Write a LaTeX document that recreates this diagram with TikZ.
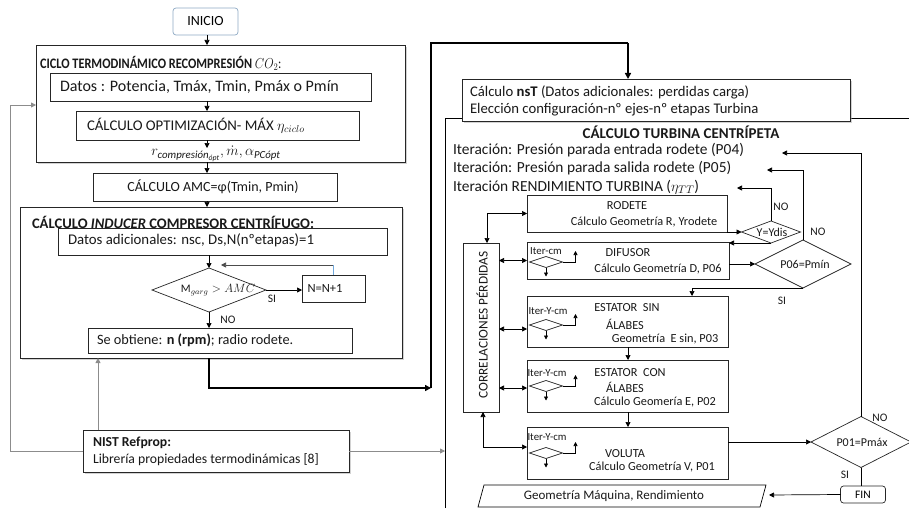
\documentclass[tikz,border=0pt]{standalone}
\usepackage{fontspec}
\setmainfont{Carlito}
\usepackage{amsmath}
\usetikzlibrary{arrows.meta,shapes.geometric,shadows,calc}
\newcommand\fsz[1]{\fontsize{#1}{#1}\selectfont}
\definecolor{inicol}{HTML}{8EA9C4}
\definecolor{garrc}{HTML}{8C8C8C}
\definecolor{loopc}{HTML}{6FA8DC}
\newcommand\miniiter[4]{%
  \node[dia, minimum width=33, minimum height=11] (#1d) at (#2) {};
  \node[txt, font=\fsz{10.8}] (#1l) at (#3) {#4};
  \draw[sarr] (#1d.south) -- ++(0,9);
  \draw[sarr] (#1d.east) -- ++(13,0) -- ++(0,-11);
}
\begin{document}
\begin{tikzpicture}[x=1pt,y=-1pt,
 box/.style={draw=black!85, line width=0.7pt, rectangle, inner sep=0pt, outer sep=0pt, fill=white},
 bigbox/.style={box, drop shadow={shadow xshift=2pt, shadow yshift=-2pt, fill=black!35}},
 dia/.style={draw=black!85, line width=0.7pt, diamond, inner sep=0pt, outer sep=0pt, fill=white},
 txt/.style={inner sep=0pt, outer sep=0pt, font=\fsz{12.5}, text=black!90},
 arr/.style={draw=black, line width=0.7pt, -{Triangle[length=5pt,width=5pt]}},
 sarr/.style={draw=black, line width=0.7pt, -{Triangle[length=4pt,width=4pt]}},
 darr/.style={draw=black, line width=0.7pt, {Triangle[length=5pt,width=5pt]}-{Triangle[length=5pt,width=5pt]}},
 garr/.style={draw=garrc, line width=0.8pt, -{Triangle[length=5pt,width=5pt]}},
 thk/.style={draw=black, line width=1.8pt, -{Triangle[length=6pt,width=6pt]}},
 thkl/.style={draw=black, line width=1.8pt},
 plain/.style={draw=black, line width=0.7pt},
 small/.style={txt, font=\fsz{11.5}},
 btxt/.style={txt, font=\fsz{12.3}},
]
\useasboundingbox (0,0) rectangle (909,508);
% helper coordinates
\coordinate (cA) at (207,0);
\coordinate (cB) at (209,0);
\coordinate (cN) at (98,0);
\coordinate (cT) at (628,0);
\coordinate (cS) at (692,0);
\coordinate (cC) at (487,0);
\coordinate (cD) at (483,0);
\coordinate (cE) at (628,0);
\coordinate (rE1) at (0,329);
\coordinate (rE2) at (0,388);
\coordinate (rV) at (0,447);
\coordinate (frameTL) at (445,118);
\coordinate (frameBL) at (445,508);
\coordinate (frameTR) at (909,118);

% ---------------- left part
\node[box, draw=inicol, rounded corners=3pt, minimum width=65, minimum height=27, font=\fsz{14}] (inicio) at (205.5,21.5) {INICIO};
\node[bigbox, minimum width=369, minimum height=117] (cyc) at (220.5,103.5) {};
\node[txt, anchor=west, font=\fsz{14.5}\bfseries] (cyct) at (40,63) {\scalebox{0.85}[1]{CICLO TERMODINÁMICO RECOMPRESIÓN \mdseries$CO_2$:}};
\node[box, minimum width=321, minimum height=28] (datos) at (210.5,87) {};
\node[txt, anchor=west, font=\fsz{16}] (datost) at (60,87) {Datos : Potencia, Tmáx, Tmin, Pmáx o Pmín};
\node[box, minimum width=283, minimum height=29] (opt) at (217.5,125.5) {};
\node[txt, anchor=west, font=\fsz{14.8}] (optt) at (87,125.5) {CÁLCULO OPTIMIZACIÓN- MÁX $\eta_{ciclo}$};
\coordinate (rlabTop) at (207,148);
\node[txt, font=\fsz{15.5}] (rlab) at (216,154) {$r_{\text{\itshape compresión}_{\text{\itshape ópt}}}, \dot m, \alpha_{\text{\itshape PCópt}}$};
\node[box, minimum width=244, minimum height=28] (amc) at (215,187) {};
\node[txt, font=\fsz{14}] (amct) at (213,187) {CÁLCULO AMC=φ(Tmin, Pmin)};
\node[bigbox, minimum width=382, minimum height=151] (ind) at (211,282.5) {};
\node[txt, anchor=west, font=\fsz{14.6}\bfseries] (indt) at (32,222) {CÁLCULO \textit{INDUCER} COMPRESOR CENTRÍFUGO:};
\node[box, minimum width=329, minimum height=27] (dad) at (222.5,241.5) {};
\node[txt, anchor=west, font=\fsz{14.8}] (dadt) at (68,240) {Datos adicionales: nsc, Ds,N(nºetapas)=1};
\node[dia, minimum width=114, minimum height=44] (d1) at (209,290) {};
\node[txt, font=\fsz{11.5}] (d1t) at (218,290) {M$_{garg}>AMC$};
\node[box, minimum width=63, minimum height=27] (nn1) at (333.5,288.5) {};
\node[txt, font=\fsz{12.5}] (nn1t) at (325,288.5) {N=N+1};
\node[small] (sia) at (272,299) {SI};
\node[small] (noa) at (228,320) {NO};
\node[box, minimum width=264, minimum height=25] (res) at (220,340.5) {};
\node[txt, anchor=west, font=\fsz{14.3}] (rest) at (97,340.5) {Se obtiene: \textbf{n (rpm)}; radio rodete.};
\node[bigbox, minimum width=266, minimum height=42] (nist) at (216,451) {};
\node[txt, anchor=west, font=\fsz{13.7}\bfseries] (nist1) at (93,443) {NIST Refprop:};
\node[txt, anchor=west, font=\fsz{13.7}] (nist2) at (93,460) {Librería propiedades termodinámicas [8]};

% left connectors
\draw[arr] (inicio.south -| cA) -- (cyc.north -| cA);
\draw[arr] (datos.south -| cA) -- (opt.north -| cA);
\draw[arr] (opt.south -| cA) -- (rlabTop);
\draw[arr] (cyc.south -| cA) -- (amc.north -| cA);
\draw[arr] (amc.south -| cA) -- (ind.north -| cA);
\draw[arr] (dad.south -| cB) -- (d1.north);
\draw[arr] (d1.east) -- (nn1.west |- d1.east);
\coordinate (lp1) at (333,265);
\coordinate (lp2) at (221,265);
\draw[draw=loopc, line width=0.7pt] (nn1.north -| lp1) -- (lp1);
\draw[arr, draw=black!70] (lp1) -- (lp2);
\draw[arr] (d1.south) -- (res.north -| d1.south);
\draw[garr] (nist.north -| cN) -- (ind.south -| cN);
\coordinate (gA) at (10,105);
\draw[garr] (nist.west) -| (gA) -- (gA -| cyc.west);
\draw[garr] (nist.east) -- (nist.east -| frameTL);

% ---------------- right part
\draw[plain] (frameBL) -- (frameTL) -- (frameTR);
\coordinate (jA) at (431,388);
\coordinate (jB) at (431,43);
\node[bigbox, minimum width=388, minimum height=42] (nst) at (656,100) {};
\node[txt, anchor=west, font=\fsz{14.7}] (nst1) at (470,92) {Cálculo \textbf{nsT} (Datos adicionales: perdidas carga)};
\node[txt, anchor=west, font=\fsz{14.7}] (nst2) at (470,110) {Elección configuración-nº ejes-nº etapas Turbina};
\draw[thkl] (jA) -- (jB) -- (jB -| cT);
\draw[thk] (jB -| cT) -- (nst.north -| cT);
\draw[thk] (ind.south -| cB) |- (jA);

\node[txt, font=\fsz{15}\bfseries] (turt) at (681,132) {CÁLCULO TURBINA CENTRÍPETA};
\node[txt, anchor=west, font=\fsz{15.4}] (it1) at (453,150) {Iteración: Presión parada entrada rodete (P04)};
\node[txt, anchor=west, font=\fsz{15.4}] (it2) at (453,168) {Iteración: Presión parada salida rodete (P05)};
\node[txt, anchor=west, font=\fsz{15.4}] (it3) at (453,187) {Iteración RENDIMIENTO TURBINA ($\eta_{TT}$)};

\node[box, minimum width=200, minimum height=37] (rod) at (627,213.5) {};
\node[btxt] (rod1) at (627,206) {RODETE};
\node[btxt] (rod2) at (644,222) {Cálculo Geometría R, Yrodete};
\node[box, minimum width=202, minimum height=37] (dif) at (628,260.5) {};
\node[btxt] (dif1) at (628,253) {DIFUSOR};
\node[btxt] (dif2) at (658,269) {Cálculo Geometría D, P06};
\node[box, minimum width=201, minimum height=51] (esin) at (627.5,321.5) {};
\node[btxt] (esin1) at (627,308) {ESTATOR\ \ SIN};
\node[btxt] (esin2) at (625,324) {ÁLABES};
\node[btxt] (esin3) at (665,339) {Geometría\ \ E sin, P03};
\node[box, minimum width=201, minimum height=52] (econ) at (627.5,386) {};
\node[btxt] (econ1) at (630,373) {ESTATOR\ \ CON};
\node[btxt] (econ2) at (625,387) {ÁLABES};
\node[btxt] (econ3) at (655,402) {Cálculo Geomería E, P02};
\node[box, minimum width=201, minimum height=52] (vol) at (627.5,453) {};
\node[btxt] (vol1) at (625,454) {VOLUTA};
\node[btxt] (vol2) at (652,467) {Cálculo Geometría V, P01};
\node[box, minimum width=36, minimum height=169] (corr) at (481,327.5) {};
\node[txt, rotate=90, font=\fsz{13.3}] (corrt) at (482,325) {CORRELACIONES PÉRDIDAS};

\miniiter{mdif}{546,262}{546,251}{Iter-cm}
\miniiter{mesin}{546,325}{548,311}{Iter-Y-cm}
\miniiter{mecon}{546,386}{547,373}{Iter-Y-cm}
\miniiter{mvol}{546,453}{547,437}{Iter-Y-cm}

\node[dia, minimum width=59, minimum height=22] (ydis) at (771,232) {};
\node[txt, font=\fsz{12}] (ydist) at (772,232) {Y=Ydis};
\node[dia, minimum width=96, minimum height=48] (p06) at (803,264) {};
\node[txt, font=\fsz{12}] (p06t) at (805,264) {P06=Pmín};
\node[dia, minimum width=100, minimum height=51] (p01) at (861,442) {};
\node[txt, font=\fsz{12}] (p01t) at (862,442) {P01=Pmáx};
\node[box, rounded corners=3pt, minimum width=45, minimum height=17, font=\fsz{11.5}] (fin) at (863,494.5) {FIN};
\draw[plain] (478,507) -- (484,485) -- (766,485) -- (760,507) -- cycle;
\node[txt, font=\fsz{13}] (geot) at (614,496) {Geometría Máquina, Rendimiento};
\coordinate (geoR) at (769,495);

\node[small] (no1) at (781,207) {NO};
\node[small] (no2) at (818,232) {NO};
\node[small] (no3) at (880,418) {NO};
\node[small] (si1) at (782,301) {SI};
\node[small] (si2) at (845,475) {SI};

% right connectors
\coordinate (t04) at (782,153);
\coordinate (t05) at (767,170);
\coordinate (tTT) at (737,188);
\draw[arr] (p01.north) |- (t04);
\draw[arr] (p06.north) |- (t05);
\draw[arr] (ydis.north) |- (tTT);
\draw[arr] (rod.east |- ydis.west) -- (ydis.west);
\draw[arr] (ydis.south) -- (ydis.south -| dif.east);
\draw[arr] (dif.east |- p06.west) -- (p06.west);
\draw[arr] (p06.south) -| (esin.north -| cS);
\draw[arr] (esin.south -| cE) -- (econ.north -| cE);
\draw[arr] (econ.south -| cE) -- (vol.north -| cE);
\draw[arr] (vol.east |- p01.west) -- (p01.west);
\draw[plain] (p01.south) -- (fin.north -| p01.south);
\draw[arr] (fin.west) -- (geoR);
\draw[darr] (corr.north -| cC) |- (rod.west);
\draw[darr] (corr.east |- dif.west) -- (dif.west);
\draw[darr] (corr.east |- rE1) -- (esin.west |- rE1);
\draw[darr] (corr.east |- rE2) -- (econ.west |- rE2);
\draw[darr] (corr.south -| cD) |- (vol.west |- rV);
\end{tikzpicture}
\end{document}
